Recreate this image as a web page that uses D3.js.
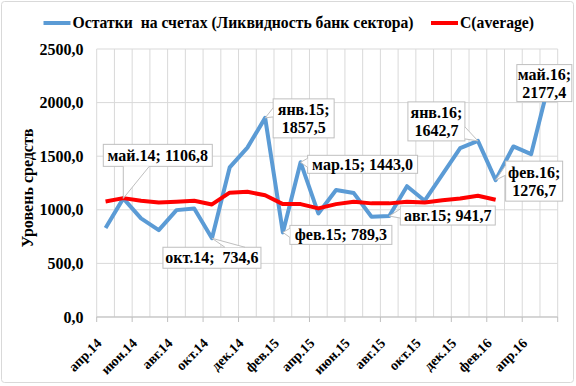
<!DOCTYPE html>
<html lang="ru">
  <head>
    <meta charset="utf-8">
    <script type="text/javascript" src="https://d3js.org/d3.v7.min.js"></script>
    <style>
      body { margin: 0; background: white; }
    </style>
  </head>
  <body>
    <script type="text/javascript">

    // Data
    var months = ["апр.14", "май.14", "июн.14", "июл.14", "авг.14", "сен.14", "окт.14", "ноя.14",
                  "дек.14", "янв.15", "фев.15", "мар.15", "апр.15", "май.15", "июн.15", "июл.15",
                  "авг.15", "сен.15", "окт.15", "ноя.15", "дек.15", "янв.16", "фев.16", "мар.16",
                  "апр.16", "май.16"];
    var ostatki = [830, 1106.8, 920, 811, 997, 1013, 734.6, 1395, 1580, 1857.5, 789.3, 1443.0, 966,
                   1184, 1156, 935, 941.7, 1220, 1085, 1330, 1575, 1642.7, 1276.7, 1591, 1519, 2177.4];
    var average = [1078, 1109, 1084, 1069, 1075, 1084, 1050, 1160, 1168, 1135, 1053, 1053, 1013,
                   1053, 1075, 1060, 1060, 1075, 1068, 1090, 1106, 1131, 1094];
    var yTicks = [0, 500, 1000, 1500, 2000, 2500];
    var seriesNames = ["Остатки  на счетах (Ликвидность банк сектора)", "C(average)"];

    // Callouts: which points get a label, and how the box sits next to the point
    var calloutIdx = [1, 6, 9, 10, 11, 16, 21, 22, 25];
    var calloutLines = [["май.14; 1106,8"], ["окт.14;  734,6"], ["янв.15;", "1857,5"],
                        ["фев.15; 789,3"], ["мар.15; 1443,0"], ["авг.15; 941,7"],
                        ["янв.16;", "1642,7"], ["фев.16;", "1276,7"], ["май.16;", "2177,4"]];
    // [dx, dy, w, h, wedge side, wedge start, wedge end]
    var calloutBox = [[-20, -54, 109, 22, "bottom", 20, 46],
                      [-49, 9, 98, 21, "top", 62, 82],
                      [8, -19, 61, 39, "left", 9, 18],
                      [7, -7, 102, 19, "left", 3, 12],
                      [7, -7, 110, 18, "left", 3, 12],
                      [11, -10, 95, 19, "left", 3, 12],
                      [-70, -39, 57, 39, "right", 25, 37],
                      [10, -19, 57, 40, "left", 4, 14],
                      [-32, -19, 55, 37, "none", 0, 0]];

    var svgW = 576;
    var svgH = 386;
    var plot = {left: 96.7, right: 557.7, top: 49, bottom: 317};
    var fontFam = "'Liberation Serif', 'Times New Roman', serif";

    // Helper: bold serif text like in the Excel original
    function addText(parent, size) {
      return parent.append("text")
                    .attr("xml:space", "preserve")
                    .style("font-family", fontFam)
                    .style("font-weight", "bold")
                    .style("white-space", "pre")
                    .style("font-size", size + "px");
    }

    var svg = d3.select("body")
                .append("svg")
                  .attr("width", svgW)
                  .attr("height", svgH);

    // Outer chart border
    svg.append("rect")
        .attr("x", 1.5)
        .attr("y", 1.5)
        .attr("width", svgW - 4)
        .attr("height", svgH - 5)
        .attr("rx", 3)
        .attr("fill", "white")
        .attr("stroke", "#d9d9d9");

    // Scales
    var xScale = d3.scaleBand()
                    .domain(months)
                    .range([plot.left, plot.right])
                    .padding(0);
    var yScale = d3.scaleLinear()
                    .domain([0, 2500])
                    .range([plot.bottom, plot.top]);
    var cx = function(i) { return xScale(months[i]) + xScale.bandwidth() / 2; };

    // Gridlines
    var grid = svg.append("g").attr("stroke", "#d9d9d9").attr("stroke-width", 1);
    grid.selectAll("line.v")
          .data(months.concat(["end"]))
          .enter()
          .append("line")
            .attr("x1", function(d, i) { return i < months.length ? xScale(d) : plot.right; })
            .attr("x2", function(d, i) { return i < months.length ? xScale(d) : plot.right; })
            .attr("y1", plot.top)
            .attr("y2", plot.bottom);
    grid.selectAll("line.h")
          .data(yTicks)
          .enter()
          .append("line")
            .attr("x1", plot.left)
            .attr("x2", plot.right)
            .attr("y1", function(d) { return yScale(d); })
            .attr("y2", function(d) { return yScale(d); });

    // X axis line and ticks every two months
    var xAxis = svg.append("g").attr("stroke", "#bfbfbf");
    xAxis.append("line")
          .attr("x1", plot.left)
          .attr("x2", plot.right)
          .attr("y1", plot.bottom)
          .attr("y2", plot.bottom);
    var tickMonths = months.filter(function(d, i) { return i % 2 == 0; });
    xAxis.selectAll("line.tick")
          .data(tickMonths.concat(["end"]))
          .enter()
          .append("line")
            .attr("x1", function(d) { return d == "end" ? plot.right : xScale(d); })
            .attr("x2", function(d) { return d == "end" ? plot.right : xScale(d); })
            .attr("y1", plot.bottom)
            .attr("y2", plot.bottom + 5);

    // X labels, rotated
    tickMonths.forEach(function(d) {
      addText(svg, 14)
        .attr("transform", "translate(" + (xScale(d) + xScale.bandwidth() / 2 - 3) + "," + (plot.bottom + 27) + ") rotate(-45)")
        .attr("text-anchor", "end")
        .text(d);
    });

    // Y labels
    var fmt = function(v) { return d3.format(".1f")(v).replace(".", ","); };
    yTicks.forEach(function(d) {
      addText(svg, 16)
        .attr("x", 83.5)
        .attr("y", yScale(d))
        .attr("dy", "0.35em")
        .attr("text-anchor", "end")
        .text(fmt(d));
    });

    addText(svg, 16)
      .attr("transform", "translate(27,188) rotate(-90)")
      .attr("text-anchor", "middle")
      .attr("dy", "0.35em")
      .text("Уровень средств");

    // Lines
    var line = d3.line()
                  .x(function(d, i) { return cx(i); })
                  .y(function(d) { return yScale(d); });
    svg.append("path")
        .attr("d", line(ostatki))
        .attr("fill", "none")
        .attr("stroke", "#5b9bd5")
        .attr("stroke-width", 4)
        .attr("stroke-linejoin", "round");
    svg.append("path")
        .attr("d", line(average))
        .attr("fill", "none")
        .attr("stroke", "#ff0000")
        .attr("stroke-width", 4)
        .attr("stroke-linejoin", "round");

    // Callouts
    calloutIdx.forEach(function(idx, k) {
      var b = calloutBox[k];
      var px = cx(idx);
      var py = yScale(ostatki[idx]);
      var bx = px + b[0];
      var by = py + b[1];
      var g = svg.append("g");

      g.append("rect")
        .attr("x", bx)
        .attr("y", by)
        .attr("width", b[2])
        .attr("height", b[3])
        .attr("fill", "white")
        .attr("stroke", "#bfbfbf");

      if (b[4] != "none") {
        var p1, p2;
        if (b[4] == "bottom") { p1 = [bx + b[5], by + b[3]]; p2 = [bx + b[6], by + b[3]]; }
        if (b[4] == "top") { p1 = [bx + b[5], by]; p2 = [bx + b[6], by]; }
        if (b[4] == "left") { p1 = [bx, by + b[5]]; p2 = [bx, by + b[6]]; }
        if (b[4] == "right") { p1 = [bx + b[2], by + b[5]]; p2 = [bx + b[2], by + b[6]]; }
        g.append("path")
          .attr("d", "M" + p1 + "L" + px + "," + py + "L" + p2 + "Z")
          .attr("fill", "white");
        g.append("path")
          .attr("d", "M" + p1 + "L" + px + "," + py + "L" + p2)
          .attr("fill", "none")
          .attr("stroke", "#bfbfbf");
      }

      var lines = calloutLines[k];
      var lh = 18;
      var t = addText(g, 16).attr("text-anchor", "middle");
      lines.forEach(function(s, j) {
        t.append("tspan")
          .attr("x", bx + b[2] / 2)
          .attr("y", by + b[3] / 2 + (j - (lines.length - 1) / 2) * lh)
          .attr("dy", "0.35em")
          .text(s);
      });
    });

    // Legend
    var legendX = [43.5, 431];
    var legendColors = ["#5b9bd5", "#ff0000"];
    seriesNames.forEach(function(name, i) {
      svg.append("line")
          .attr("x1", legendX[i])
          .attr("x2", legendX[i] + 27)
          .attr("y1", 23)
          .attr("y2", 23)
          .attr("stroke", legendColors[i])
          .attr("stroke-width", 4);
      addText(svg, 15.7)
        .attr("x", legendX[i] + 29)
        .attr("y", 23)
        .attr("dy", "0.35em")
        .text(name);
    });
    </script>
  </body>
</html>
